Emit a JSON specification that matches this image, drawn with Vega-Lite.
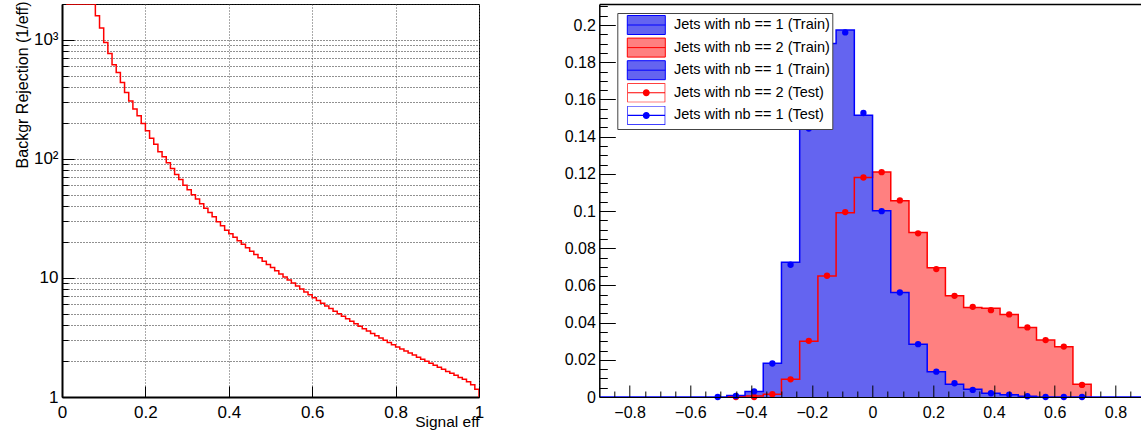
{
  "$schema": "https://vega.github.io/schema/vega-lite/v6.json",
  "padding": {"left": 13, "top": 0, "right": 0, "bottom": 0},
  "config": {
    "font": "Liberation Sans",
    "view": {"stroke": null},
    "axis": {"labelFont": "Liberation Sans", "titleFont": "Liberation Sans", "titleFontWeight": "normal", "labelColor": "#000", "titleColor": "#000", "domainColor": "#000", "tickColor": "#000", "labelFlush": false, "labelOverlap": false},
    "legend": {"title": null, "orient": "none", "legendX": 18, "legendY": 9, "zindex": 2, "fillColor": "#ffffff", "strokeColor": "#444444", "padding": 2, "symbolSize": 361, "symbolOffset": 17, "labelOffset": 17.7, "rowPadding": -1.4, "labelFont": "Liberation Sans", "labelFontSize": 14.5, "labelColor": "#000", "labelLimit": 400, "symbolOpacity": 1, "symbolStrokeWidth": 1}
  },
  "datasets": {
    "roc": [
      {"eff":0.01,"rej":2000},{"eff":0.02,"rej":2000},{"eff":0.03,"rej":2000},{"eff":0.04,"rej":2000},{"eff":0.05,"rej":2000},{"eff":0.06,"rej":2000},{"eff":0.07,"rej":2000},
      {"eff":0.08,"rej":1590},{"eff":0.09,"rej":1255},{"eff":0.10,"rej":950},{"eff":0.11,"rej":767},{"eff":0.12,"rej":617},{"eff":0.13,"rej":531},{"eff":0.14,"rej":438},{"eff":0.15,"rej":362},{"eff":0.16,"rej":307},{"eff":0.17,"rej":262},{"eff":0.18,"rej":230},{"eff":0.19,"rej":198},
      {"eff":0.20,"rej":172},{"eff":0.21,"rej":149},{"eff":0.22,"rej":133},{"eff":0.23,"rej":115},{"eff":0.24,"rej":104},{"eff":0.25,"rej":93},{"eff":0.26,"rej":83},{"eff":0.27,"rej":74},{"eff":0.28,"rej":67},{"eff":0.29,"rej":60},
      {"eff":0.30,"rej":55},{"eff":0.31,"rej":50},{"eff":0.32,"rej":46},{"eff":0.33,"rej":42},{"eff":0.34,"rej":38.5},{"eff":0.35,"rej":35.4},{"eff":0.36,"rej":32.6},{"eff":0.37,"rej":29.7},{"eff":0.38,"rej":27.4},{"eff":0.39,"rej":25.2},
      {"eff":0.40,"rej":23.55},{"eff":0.41,"rej":21.98},{"eff":0.42,"rej":20.51},{"eff":0.43,"rej":19.19},{"eff":0.44,"rej":17.95},{"eff":0.45,"rej":16.79},{"eff":0.46,"rej":15.74},{"eff":0.47,"rej":14.76},{"eff":0.48,"rej":13.84},{"eff":0.49,"rej":13.0},
      {"eff":0.50,"rej":12.22},{"eff":0.51,"rej":11.48},{"eff":0.52,"rej":10.81},{"eff":0.53,"rej":10.18},{"eff":0.54,"rej":9.59},{"eff":0.55,"rej":9.06},{"eff":0.56,"rej":8.55},{"eff":0.57,"rej":8.07},{"eff":0.58,"rej":7.62},{"eff":0.59,"rej":7.21},
      {"eff":0.60,"rej":6.82},{"eff":0.61,"rej":6.47},{"eff":0.62,"rej":6.14},{"eff":0.63,"rej":5.82},{"eff":0.64,"rej":5.53},{"eff":0.65,"rej":5.26},{"eff":0.66,"rej":5.0},{"eff":0.67,"rej":4.76},{"eff":0.68,"rej":4.54},{"eff":0.69,"rej":4.33},
      {"eff":0.70,"rej":4.12},{"eff":0.71,"rej":3.93},{"eff":0.72,"rej":3.75},{"eff":0.73,"rej":3.58},{"eff":0.74,"rej":3.42},{"eff":0.75,"rej":3.27},{"eff":0.76,"rej":3.13},{"eff":0.77,"rej":3.0},{"eff":0.78,"rej":2.87},{"eff":0.79,"rej":2.75},
      {"eff":0.80,"rej":2.63},{"eff":0.81,"rej":2.53},{"eff":0.82,"rej":2.43},{"eff":0.83,"rej":2.34},{"eff":0.84,"rej":2.25},{"eff":0.85,"rej":2.16},{"eff":0.86,"rej":2.08},{"eff":0.87,"rej":2.0},{"eff":0.88,"rej":1.92},{"eff":0.89,"rej":1.85},
      {"eff":0.90,"rej":1.78},{"eff":0.91,"rej":1.71},{"eff":0.92,"rej":1.64},{"eff":0.93,"rej":1.58},{"eff":0.94,"rej":1.52},{"eff":0.95,"rej":1.46},{"eff":0.96,"rej":1.41},{"eff":0.97,"rej":1.34},{"eff":0.98,"rej":1.27},{"eff":0.99,"rej":1.16},
      {"eff":1.0,"rej":1}
    ],
    "nb1_train": [
      {"x":-0.9,"h":0},{"x":-0.48,"h":0.0008},{"x":-0.42,"h":0.0029},{"x":-0.36,"h":0.0182},{"x":-0.30,"h":0.0724},{"x":-0.24,"h":0.1443},{"x":-0.18,"h":0.19},{"x":-0.12,"h":0.1973},{"x":-0.06,"h":0.1515},
      {"x":0,"h":0.1001},{"x":0.06,"h":0.0562},{"x":0.12,"h":0.0284},{"x":0.18,"h":0.0136},{"x":0.24,"h":0.0068},{"x":0.30,"h":0.0041},{"x":0.36,"h":0.002},{"x":0.42,"h":0.0012},{"x":0.48,"h":0.0004},{"x":0.54,"h":0},{"x":0.9,"h":0}
    ],
    "nb2_train": [
      {"x":-0.48,"h":0.0003},{"x":-0.42,"h":0.0005},{"x":-0.36,"h":0.0015},{"x":-0.30,"h":0.0095},{"x":-0.24,"h":0.030},{"x":-0.18,"h":0.065},{"x":-0.12,"h":0.099},{"x":-0.06,"h":0.118},
      {"x":0,"h":0.121},{"x":0.06,"h":0.1055},{"x":0.12,"h":0.0885},{"x":0.18,"h":0.0695},{"x":0.24,"h":0.0545},{"x":0.30,"h":0.0481},{"x":0.36,"h":0.0477},{"x":0.42,"h":0.0443},{"x":0.48,"h":0.0374},{"x":0.54,"h":0.0306},{"x":0.60,"h":0.027},{"x":0.66,"h":0.0068},{"x":0.72,"h":0}
    ],
    "test": [
      {"x":-0.45,"h":0,"sample":"nb2_test"},{"x":-0.39,"h":0,"sample":"nb2_test"},{"x":-0.33,"h":0.0015,"sample":"nb2_test"},{"x":-0.27,"h":0.0095,"sample":"nb2_test"},{"x":-0.21,"h":0.0302,"sample":"nb2_test"},{"x":-0.15,"h":0.0652,"sample":"nb2_test"},{"x":-0.09,"h":0.0994,"sample":"nb2_test"},{"x":-0.03,"h":0.118,"sample":"nb2_test"},
      {"x":0.03,"h":0.1209,"sample":"nb2_test"},{"x":0.09,"h":0.1057,"sample":"nb2_test"},{"x":0.15,"h":0.088,"sample":"nb2_test"},{"x":0.21,"h":0.0688,"sample":"nb2_test"},{"x":0.27,"h":0.0544,"sample":"nb2_test"},{"x":0.33,"h":0.0485,"sample":"nb2_test"},{"x":0.39,"h":0.0467,"sample":"nb2_test"},{"x":0.45,"h":0.0444,"sample":"nb2_test"},{"x":0.51,"h":0.0374,"sample":"nb2_test"},{"x":0.57,"h":0.0306,"sample":"nb2_test"},{"x":0.63,"h":0.0271,"sample":"nb2_test"},{"x":0.69,"h":0.0065,"sample":"nb2_test"},
      {"x":-0.51,"h":0,"sample":"nb1_test"},{"x":-0.45,"h":0.0006,"sample":"nb1_test"},{"x":-0.39,"h":0.003,"sample":"nb1_test"},{"x":-0.33,"h":0.018,"sample":"nb1_test"},{"x":-0.27,"h":0.0711,"sample":"nb1_test"},{"x":-0.21,"h":0.1443,"sample":"nb1_test"},{"x":-0.15,"h":0.19,"sample":"nb1_test"},{"x":-0.09,"h":0.196,"sample":"nb1_test"},{"x":-0.03,"h":0.1527,"sample":"nb1_test"},
      {"x":0.03,"h":0.0999,"sample":"nb1_test"},{"x":0.09,"h":0.0562,"sample":"nb1_test"},{"x":0.15,"h":0.0284,"sample":"nb1_test"},{"x":0.21,"h":0.0136,"sample":"nb1_test"},{"x":0.27,"h":0.0074,"sample":"nb1_test"},{"x":0.33,"h":0.0038,"sample":"nb1_test"},{"x":0.39,"h":0.002,"sample":"nb1_test"},{"x":0.45,"h":0.0013,"sample":"nb1_test"},{"x":0.51,"h":0.0004,"sample":"nb1_test"},{"x":0.57,"h":0,"sample":"nb1_test"},{"x":0.63,"h":0,"sample":"nb1_test"},{"x":0.69,"h":0,"sample":"nb1_test"}
    ]
  },
  "resolve": {"scale": {"color": "independent", "shape": "independent", "stroke": "independent"}, "legend": {"color": "independent", "shape": "independent", "stroke": "independent"}},
  "bounds": "flush",
  "spacing": 120.3,
  "hconcat": [
    {
      "width": 417,
      "height": 393,
      "view": {"stroke": "#000", "strokeWidth": 1},
      "data": {"name": "roc"},
      "mark": {"type": "line", "interpolate": "step-after", "color": "#ff0000", "strokeWidth": 1.5, "clip": true},
      "encoding": {
        "x": {
          "field": "eff", "type": "quantitative",
          "scale": {"domain": [0, 1], "nice": false, "zero": false},
          "axis": {
            "title": "Signal eff", "titleFontSize": 15.5, "titleAnchor": "end", "titleAlign": "right", "titleBaseline": "alphabetic", "titleY": 29,
            "values": [0, 0.2, 0.4, 0.6, 0.8, 1],
            "labelExpr": "format(datum.value, '~g')",
            "labelFontSize": 17, "tickSize": -11, "labelPadding": 18,
            "grid": true, "gridDash": [1, 2], "gridColor": "#555",
            "domainWidth": 2
          }
        },
        "y": {
          "field": "rej", "type": "quantitative",
          "scale": {"type": "log", "domain": [1, 2000], "nice": false},
          "axis": {
            "title": "Backgr Rejection (1/eff)", "titleFontSize": 16, "titleAngle": 270, "titleAlign": "right", "titleBaseline": "alphabetic", "titleX": -35, "titleY": -3,
            "values": [1,2,3,4,5,6,7,8,9,10,20,30,40,50,60,70,80,90,100,200,300,400,500,600,700,800,900,1000,2000],
            "labelExpr": "datum.value == 1 ? '1' : datum.value == 10 ? '10' : datum.value == 100 ? '10²' : datum.value == 1000 ? '10³' : ''",
            "labelFontSize": {"condition": {"test": "datum.value == 1 || datum.value == 10 || datum.value == 100 || datum.value == 1000", "value": 17}, "value": 0},
            "tickSize": {"condition": {"test": "datum.value == 1 || datum.value == 10 || datum.value == 100 || datum.value == 1000", "value": -12}, "value": -6},
            "labelPadding": 16,
            "grid": true, "gridDash": [1, 2], "gridColor": "#222",
            "domainWidth": 2
          }
        }
      }
    },
    {
      "width": 543,
      "height": 393,
      "encoding": {
        "x": {
          "field": "x", "type": "quantitative",
          "scale": {"domain": [-0.9, 0.8885], "nice": false, "zero": false},
          "axis": {
            "title": null, "zindex": 1,
            "values": [-0.85,-0.8,-0.75,-0.7,-0.65,-0.6,-0.55,-0.5,-0.45,-0.4,-0.35,-0.3,-0.25,-0.2,-0.15,-0.1,-0.05,0,0.05,0.1,0.15,0.2,0.25,0.3,0.35,0.4,0.45,0.5,0.55,0.6,0.65,0.7,0.75,0.8,0.85],
            "labelExpr": "abs(datum.value*5 - round(datum.value*5)) < 0.001 ? format(datum.value, '~g') : ''",
            "labelFontSize": {"condition": {"test": "abs(datum.value*5 - round(datum.value*5)) < 0.001", "value": 16}, "value": 0},
            "tickSize": {"condition": {"test": "abs(datum.value*5 - round(datum.value*5)) < 0.001", "value": -12}, "value": -6},
            "labelPadding": 19,
            "grid": false, "domainWidth": 1
          }
        },
        "y": {
          "field": "h", "type": "quantitative",
          "scale": {"domain": [0, 0.2113], "nice": false, "zero": true},
          "axis": {
            "title": null, "zindex": 1,
            "values": [0,0.005,0.01,0.015,0.02,0.025,0.03,0.035,0.04,0.045,0.05,0.055,0.06,0.065,0.07,0.075,0.08,0.085,0.09,0.095,0.1,0.105,0.11,0.115,0.12,0.125,0.13,0.135,0.14,0.145,0.15,0.155,0.16,0.165,0.17,0.175,0.18,0.185,0.19,0.195,0.2,0.205,0.21,0.2113],
            "labelExpr": "datum.value < 0.211 && abs(datum.value*50 - round(datum.value*50)) < 0.001 ? format(datum.value, '~g') : ''",
            "labelFontSize": {"condition": {"test": "datum.value < 0.211 && abs(datum.value*50 - round(datum.value*50)) < 0.001", "value": 16}, "value": 0},
            "tickSize": {"condition": [{"test": "datum.value > 0.211", "value": 0}, {"test": "abs(datum.value*50 - round(datum.value*50)) < 0.001", "value": -16}], "value": -8},
            "labelPadding": 20,
            "grid": true, "gridColor": "#000", "gridWidth": 1.5,
            "gridOpacity": {"condition": {"test": "datum.value > 0.211", "value": 1}, "value": 0},
            "domainWidth": 1.5
          }
        }
      },
      "layer": [
        {"data": {"name": "nb2_train"}, "mark": {"type": "area", "interpolate": "step-after", "color": "#ff8080", "opacity": 1, "clip": true}},
        {"data": {"name": "nb1_train"}, "mark": {"type": "area", "interpolate": "step-after", "color": "#6464f0", "opacity": 1, "clip": true}},
        {"data": {"name": "nb2_train"}, "mark": {"type": "line", "interpolate": "step-after", "color": "#ff0000", "strokeWidth": 1.5, "clip": true}},
        {"data": {"name": "nb1_train"}, "mark": {"type": "line", "interpolate": "step-after", "color": "#0000ff", "strokeWidth": 1.5, "clip": true}},
        {"data": {"name": "test"}, "transform": [{"filter": "datum.sample == 'nb2_test'"}], "mark": {"type": "circle", "size": 40, "opacity": 1, "color": "#ff0000"}},
        {"data": {"name": "test"}, "transform": [{"filter": "datum.sample == 'nb1_test'"}], "mark": {"type": "circle", "size": 40, "opacity": 1, "color": "#0000ff"}},
        {
          "data": {"name": "test"},
          "mark": {"type": "point", "filled": true, "opacity": 0},
          "encoding": {
            "color": {
              "field": "sample", "type": "nominal",
              "scale": {"domain": ["nb1_train", "nb2_train", "nb1_train_line", "nb2_test", "nb1_test"], "range": ["#6464f0", "#ff8080", "#6464f0", "#ff0000", "#0000ff"]},
              "legend": {
                "labelExpr": "datum.value == 'nb2_train' ? 'Jets with nb == 2 (Train)\u00a0\u00a0' : datum.value == 'nb2_test' ? 'Jets with nb == 2 (Test)' : datum.value == 'nb1_test' ? 'Jets with nb == 1 (Test)' : 'Jets with nb == 1 (Train)\u00a0\u00a0'"
              }
            },
            "shape": {
              "field": "sample", "type": "nominal",
              "scale": {"domain": ["nb1_train", "nb2_train", "nb1_train_line", "nb2_test", "nb1_test"], "range": ["M-2,-1H2V1H-2ZM-2,0H2", "M-2,-1H2V1H-2ZM-2,0H2", "M-2,-1H2V1H-2ZM-2,0H2", "M-2,-1H2V1H-2ZM-1.93,-0.93V0.93H1.93V-0.93ZM-2,-0.06H2V0.06H-2ZM0.37,0A0.37,0.37,0,1,1,-0.37,0A0.37,0.37,0,1,1,0.37,0Z", "M-2,-1H2V1H-2ZM-1.93,-0.93V0.93H1.93V-0.93ZM-2,-0.06H2V0.06H-2ZM0.37,0A0.37,0.37,0,1,1,-0.37,0A0.37,0.37,0,1,1,0.37,0Z"]},
              "legend": {
                "labelExpr": "datum.value == 'nb2_train' ? 'Jets with nb == 2 (Train)\u00a0\u00a0' : datum.value == 'nb2_test' ? 'Jets with nb == 2 (Test)' : datum.value == 'nb1_test' ? 'Jets with nb == 1 (Test)' : 'Jets with nb == 1 (Train)\u00a0\u00a0'"
              }
            },
            "stroke": {
              "field": "sample", "type": "nominal",
              "scale": {"domain": ["nb1_train", "nb2_train", "nb1_train_line", "nb2_test", "nb1_test"], "range": ["#0000ff", "#ff0000", "#0000ff", "transparent", "transparent"]},
              "legend": {
                "labelExpr": "datum.value == 'nb2_train' ? 'Jets with nb == 2 (Train)\u00a0\u00a0' : datum.value == 'nb2_test' ? 'Jets with nb == 2 (Test)' : datum.value == 'nb1_test' ? 'Jets with nb == 1 (Test)' : 'Jets with nb == 1 (Train)\u00a0\u00a0'"
              }
            }
          }
        }
      ]
    }
  ]
}
